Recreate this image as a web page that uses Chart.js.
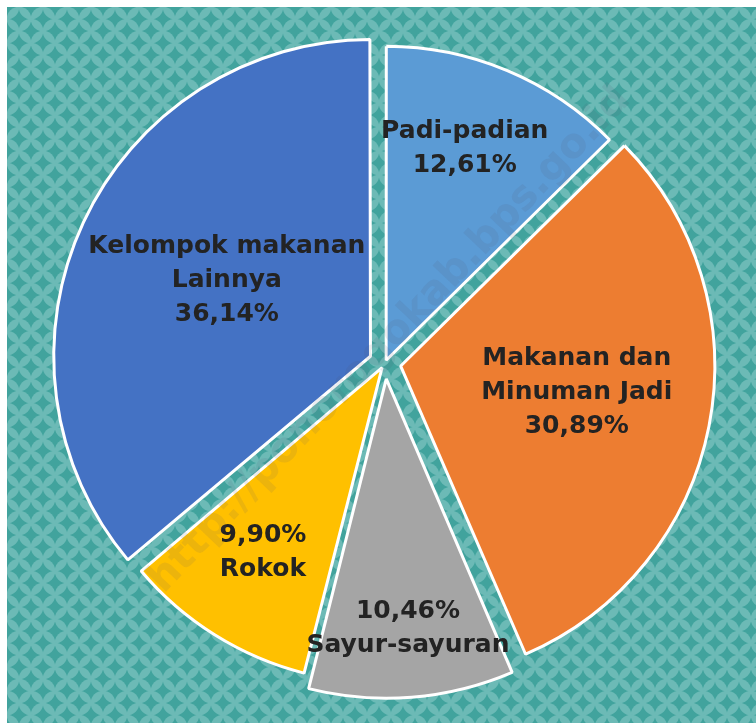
<!DOCTYPE html>
<html>
<head>
<meta charset="utf-8">
<script src="https://cdn.jsdelivr.net/npm/chart.js@4.4.1/dist/chart.umd.min.js"></script>
<style>
  html, body { margin: 0; padding: 0; background: #fff; }
  #chart1 { display: block; }
</style>
</head>
<body>
<canvas id="chart1" width="756" height="723"></canvas>
<script>
var categories = ['Padi-padian', 'Makanan dan Minuman Jadi', 'Sayur-sayuran', 'Rokok', 'Kelompok makanan Lainnya'];
var values = [12.61, 30.89, 10.46, 9.90, 36.14];
var sliceColors = ['#5b9bd5', '#ed7d31', '#a5a5a5', '#ffc000', '#4472c4'];
// how the label text is split, and whether the percent comes first
var labelLines = [['Padi-padian'], ['Makanan dan', 'Minuman Jadi'], ['Sayur-sayuran'], ['Rokok'], ['Kelompok makanan', 'Lainnya']];
var percentFirst = [false, false, true, true, false];
// where each label sits inside its slice: share of the sweep, share of the radius
var labelAngle = [0.45, 0.48, 0.49, 0.52, 0.52];
var labelRadius = [0.73, 0.62, 0.85, 0.72, 0.57];
// explode distance of each slice (Chart.js moves it by offset / 4)
var sliceOffset = [12, 64, 64, 22, 64];

function pct(v) {
    return v.toFixed(2).replace('.', ',') + '%';
}

// teal shippo background, with the thin white strip on top and left
var patternBg = {
    id: 'patternBg',
    beforeDraw: function(chart) {
        var ctx = chart.ctx;
        var tile = document.createElement('canvas');
        var s = 24, r = s / 2;
        tile.width = s; tile.height = s;
        var t = tile.getContext('2d');
        t.fillStyle = '#41a39d';
        t.fillRect(0, 0, s, s);
        t.fillStyle = '#6cbab6';
        [[0, 0], [s, 0], [0, s], [s, s]].forEach(function(c) {
            t.save();
            t.beginPath();
            t.arc(r, r, r + 0.3, 0, Math.PI * 2);
            t.clip();
            t.beginPath();
            t.arc(c[0], c[1], r + 0.3, 0, Math.PI * 2);
            t.fill();
            t.restore();
        });
        ctx.save();
        ctx.fillStyle = '#ffffff';
        ctx.fillRect(0, 0, chart.width, chart.height);
        ctx.translate(7, 7);
        ctx.fillStyle = ctx.createPattern(tile, 'repeat');
        ctx.fillRect(0, 0, chart.width - 7, chart.height - 7);
        ctx.restore();
    }
};

var sliceLabels = {
    id: 'sliceLabels',
    afterDatasetsDraw: function(chart) {
        var ctx = chart.ctx;
        var meta = chart.getDatasetMeta(0);
        ctx.save();
        ctx.font = 'bold 25px "DejaVu Sans"';
        ctx.fillStyle = '#232323';
        ctx.textAlign = 'center';
        ctx.textBaseline = 'middle';
        meta.data.forEach(function(arc, i) {
            var a = arc.startAngle + (arc.endAngle - arc.startAngle) * labelAngle[i];
            var rr = arc.outerRadius * labelRadius[i];
            var x = arc.x + Math.cos(a) * rr;
            var y = arc.y + Math.sin(a) * rr;
            var lines = percentFirst[i] ? [pct(values[i])].concat(labelLines[i]) : labelLines[i].concat([pct(values[i])]);
            var lh = 34;
            var y0 = y - (lines.length - 1) * lh / 2;
            lines.forEach(function(line, k) {
                ctx.fillText(line, x, y0 + k * lh);
            });
        });
        ctx.restore();
    },
    afterDraw: function(chart) {
        // faint diagonal watermark
        var ctx = chart.ctx;
        ctx.save();
        ctx.translate(390, 340);
        ctx.rotate(-46.5 * Math.PI / 180);
        ctx.font = 'bold 41px "DejaVu Sans"';
        ctx.fillStyle = 'rgba(80, 80, 110, 0.11)';
        ctx.textAlign = 'center';
        ctx.textBaseline = 'middle';
        ctx.fillText('http://ponorogokab.bps.go.id', 0, 0);
        ctx.restore();
    }
};

var ctx = document.getElementById('chart1');
var pieChart = new Chart(ctx, {
    type: 'pie',
    data: {
        labels: categories,
        datasets: [{
            data: values,
            backgroundColor: sliceColors,
            borderColor: '#ffffff',
            borderWidth: 3,
            offset: sliceOffset
        }]
    },
    options: {
        responsive: false,
        animation: false,
        radius: 313,
        layout: { padding: { left: 14, top: 3 } },
        plugins: {
            legend: { display: false },
            tooltip: { enabled: false }
        }
    },
    plugins: [patternBg, sliceLabels]
});
</script>
</body>
</html>
